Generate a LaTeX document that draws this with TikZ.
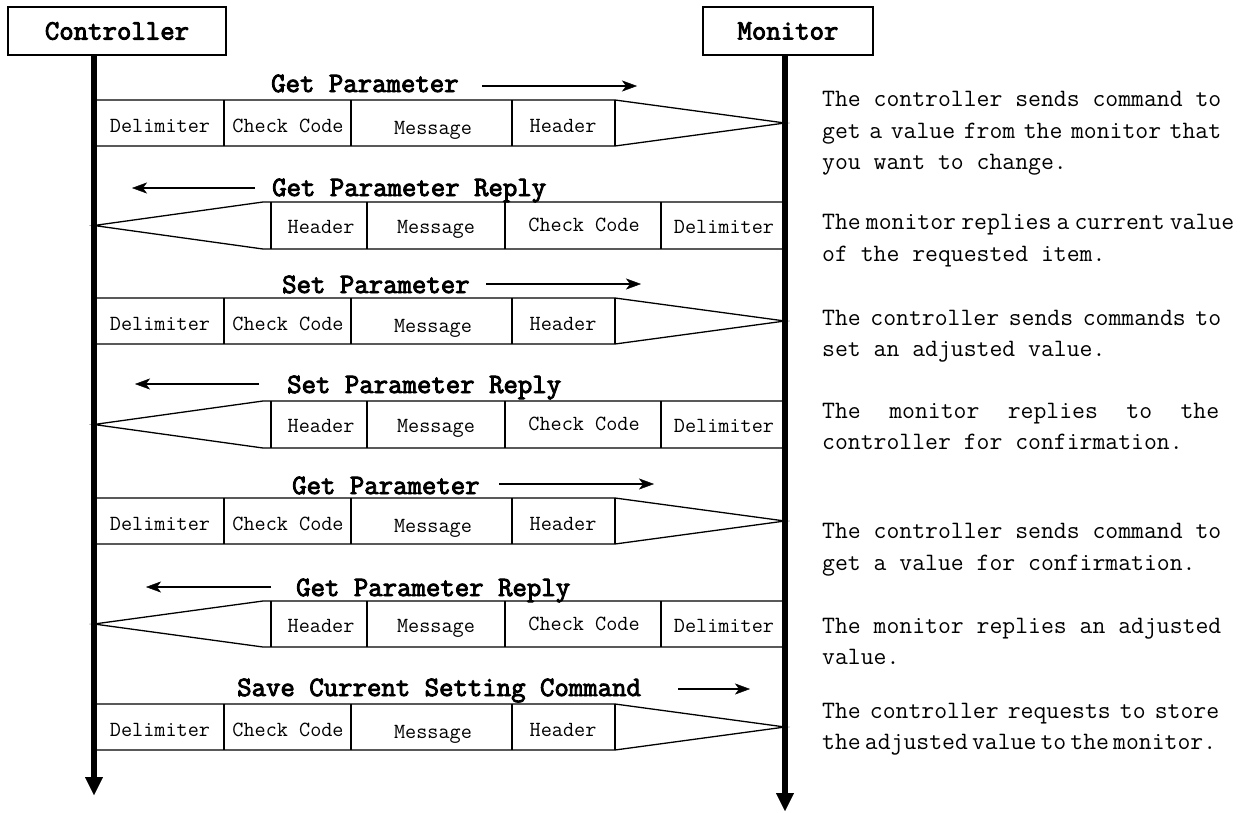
\documentclass[tikz,border=0pt]{standalone}
\usepackage{fontspec}
\setmainfont{Latin Modern Mono}[AutoFakeBold=3.2]
\setmonofont{Latin Modern Mono}[AutoFakeBold=3.2]
\usetikzlibrary{arrows.meta}
\newcommand\jline[2]{{\spaceskip=0.525em plus 1fil minus 0.45em\relax\makebox[#1][s]{#2}}}
\tikzset{
  actor/.style={draw, line width=1.4pt, inner sep=0pt, font=\bfseries\fontsize{28}{31}\selectfont},
  lifeline/.style={line width=6pt, -{Triangle[length=18pt,width=18pt,line width=0.4pt]}},
  pkt/.style={draw, line width=1.3pt, line join=miter},
  cell/.style={anchor=base, inner sep=0pt, font=\fontsize{21.6}{24}\selectfont},
  lbl/.style={anchor=base west, inner sep=0pt, font=\bfseries\fontsize{28}{31}\selectfont},
  dirarrow/.style={line width=1.3pt, -{Stealth[length=15pt,width=11pt,inset=4pt,line width=0.4pt]}},
  desc/.style={anchor=base west, inner sep=0pt, font=\fontsize{25}{28}\selectfont},
}
\newcommand\fwdpkt[3]{%
  \draw[pkt] (94,#1) -- (615,#1) -- (785,{(#1+#2)/2}) -- (615,#2) -- (94,#2);
  \draw[pkt] (224,#1) -- (224,#2) (351,#1) -- (351,#2) (512,#1) -- (512,#2) (615,#1) -- (615,#2);
  \node[cell] (#3-del) at (160,{(#1+#2)/2+9}) {Delimiter};
  \node[cell] (#3-chk) at (288,{(#1+#2)/2+9}) {Check Code};
  \node[cell] (#3-msg) at (433,{(#1+#2)/2+11}) {Message};
  \node[cell] (#3-hdr) at (563,{(#1+#2)/2+9}) {Header};
}
\newcommand\revpkt[3]{%
  \draw[pkt] (94,{(#1+#2)/2}) -- (263,#1) -- (784,#1) -- (784,#2) -- (263,#2) -- cycle;
  \draw[pkt] (271,#1) -- (271,#2) (367,#1) -- (367,#2) (505,#1) -- (505,#2) (661,#1) -- (661,#2);
  \node[cell] (#3-hdr) at (321,{(#1+#2)/2+8}) {Header};
  \node[cell] (#3-msg) at (436,{(#1+#2)/2+8}) {Message};
  \node[cell] (#3-chk) at (584,{(#1+#2)/2+6}) {Check Code};
  \node[cell] (#3-del) at (724,{(#1+#2)/2+8}) {Delimiter};
}
\begin{document}
\begin{tikzpicture}[x=1pt,y=-1pt]
\useasboundingbox (0,0) rectangle (1251,812);
\fill[white] (0,0) rectangle (1251,812);

% actors
\node[actor, minimum width=218pt, minimum height=48pt] (ctrl) at (117,31) {Controller};
\node[actor, minimum width=170pt, minimum height=48pt] (mon) at (788,31) {Monitor};

% packets
\fwdpkt{100}{146}{p1}
\revpkt{202}{249}{p2}
\fwdpkt{298}{344}{p3}
\revpkt{401}{448}{p4}
\fwdpkt{498}{544}{p5}
\revpkt{601}{647}{p6}
\fwdpkt{704}{750}{p7}

% lifelines
\coordinate (ctrlend) at (94,795);
\coordinate (monend) at (785,811);
\draw[lifeline] (ctrl.south -| ctrlend) -- (ctrlend);
\draw[lifeline] (mon.south -| monend) -- (monend);

% message labels
\node[lbl] (l1) at (271,92) {Get Parameter};
\node[lbl] (l2) at (272,196) {Get Parameter Reply};
\node[lbl] (l3) at (282,293) {Set Parameter};
\node[lbl] (l4) at (287,393) {Set Parameter Reply};
\node[lbl] (l5) at (292,494) {Get Parameter};
\node[lbl] (l6) at (296,596) {Get Parameter Reply};
\node[lbl] (l7) at (237,696) {Save Current Setting Command};

% direction arrows
\coordinate (a1s) at (482,86);  \coordinate (a1e) at (637,86);
\coordinate (a2s) at (255,188); \coordinate (a2e) at (132,188);
\coordinate (a3s) at (486,284); \coordinate (a3e) at (641,284);
\coordinate (a4s) at (259,384); \coordinate (a4e) at (135,384);
\coordinate (a5s) at (499,484); \coordinate (a5e) at (654,484);
\coordinate (a6s) at (271,587); \coordinate (a6e) at (146,587);
\coordinate (a7s) at (678,689); \coordinate (a7e) at (750,689);
\foreach \i in {1,...,7} \draw[dirarrow] (a\i s) -- (a\i e);

% descriptions
\node[desc] (d1a) at (822,106) {The controller sends command to};
\node[desc] (d1b) at (822,138) {\jline{399pt}{get a value from the monitor that}};
\node[desc] (d1c) at (822,169) {you want to change.};
\node[desc] (d2a) at (822,229) {\jline{412pt}{The monitor replies a current value}};
\node[desc] (d2b) at (822,261) {of the requested item.};
\node[desc] (d3a) at (822,325) {\jline{399pt}{The controller sends commands to}};
\node[desc] (d3b) at (822,356) {set an adjusted value.};
\node[desc] (d4a) at (822,418) {\jline{397pt}{The monitor replies to the}};
\node[desc] (d4b) at (822,449) {controller for confirmation.};
\node[desc] (d5a) at (822,538) {The controller sends command to};
\node[desc] (d5b) at (822,570) {get a value for confirmation.};
\node[desc] (d6a) at (822,633) {The monitor replies an adjusted};
\node[desc] (d6b) at (822,664) {value.};
\node[desc] (d7a) at (822,718) {\jline{397pt}{The controller requests to store}};
\node[desc] (d7b) at (822,749) {\jline{394pt}{the adjusted value to the monitor.}};
\end{tikzpicture}
\end{document}
